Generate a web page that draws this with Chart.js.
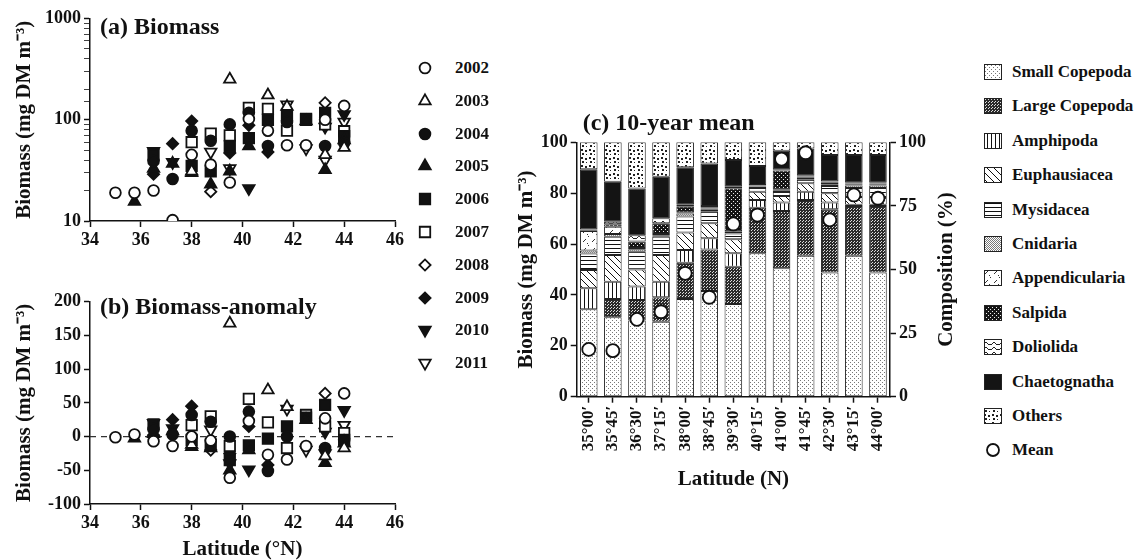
<!DOCTYPE html>
<html>
<head>
<meta charset="utf-8">
<script src="https://cdn.jsdelivr.net/npm/chart.js@4.4.1/dist/chart.umd.min.js"></script>
<style>
  body { margin: 0; background: #fff; width: 1146px; height: 560px; position: relative; overflow: hidden;
         font-family: "Liberation Serif", "Times New Roman", serif; font-weight: bold; color: #111; }
  canvas.chart { position: absolute; }
  .lrow { position: absolute; height: 22px; width: 170px; }
  .lrow canvas { position: absolute; left: 0; top: 0; }
  .lrow span { position: absolute; top: 0; line-height: 22px; font-size: 17px; white-space: nowrap; }
</style>
</head>
<body>
<canvas id="chartA" class="chart" width="410" height="262" style="left:0;top:0"></canvas>
<canvas id="chartB" class="chart" width="410" height="298" style="left:0;top:262px"></canvas>
<canvas id="chartC" class="chart" width="470" height="395" style="left:500px;top:100px"></canvas>
<div id="legendA"></div>
<div id="legendC"></div>

<script>
// ---- data: panels (a) and (b) ----
const latitudes = [35.0, 35.75, 36.5, 37.25, 38.0, 38.75, 39.5, 40.25, 41.0, 41.75, 42.5, 43.25, 44.0];
const latitudeRange = [34, 46];
const yearLabels = ["2002", "2003", "2004", "2005", "2006", "2007", "2008", "2009", "2010", "2011"];
const biomassTicks = [10, 100, 1000];

// biomass (mg DM m-3) per year, one value per latitude, null = not sampled
const biomass2002 = [19, 19, 20, 10.2, 45, 36, 24, 102, 78, 56, 56, 100, 137];
const biomass2003 = [null, null, null, null, 31, null, 251, null, 175, 135, null, 45, 53];
const biomass2004 = [null, null, 39, 26, 78, 62, 90, 117, 55, 95, null, 55, 59];
const biomass2005 = [null, 15.6, 33, 37, 30, 23, 31, 55, null, null, 97, 32, 63];
const biomass2006 = [null, null, 45, null, 35, 31, 55, 66, 100, 112, 100, 117, 69];
const biomass2007 = [null, null, null, null, 60, 73, 70, 131, 128, 78, 102, 90, 77];
const biomass2008 = [null, null, null, null, null, 19.5, null, null, null, null, null, 147, null];
const biomass2009 = [null, null, 29, 58, 97, null, 47, 88, 48, null, null, null, null];
const biomass2010 = [null, null, 49, 38, null, null, null, 21, null, null, null, 85, 113];
const biomass2011 = [null, null, null, null, null, 48, 33, null, null, 141, 52, 40, 95];

// biomass anomaly per year
const anomaly2002 = [-1, 3, -7, -14, 0, -6, -61, 23, -27, -34, -14, 27, 64];
const anomaly2003 = [null, null, null, null, -12, null, 168, null, 69, 44, null, -29, -17];
const anomaly2004 = [null, null, 11, 3, 32, 22, 0, 37, -51, 0, null, -17, -5];
const anomaly2005 = [null, -2.5, 4, 8, -15, -17, -50, -20, null, null, 25, -39, -10];
const anomaly2006 = [null, null, 18, null, -5, -12, -35, -13, -3, 15, 28, 47, -5];
const anomaly2007 = [null, null, null, null, 17, 30, -14, 56, 21, -17, 32, 15, 5];
const anomaly2008 = [null, null, null, null, null, -20, null, null, null, null, null, 64, null];
const anomaly2009 = [null, null, 2, 25, 45, null, -25, 15, -42, null, null, null, null];
const anomaly2010 = [null, null, 20, 12, null, null, null, -49, null, null, null, 7, 39];
const anomaly2011 = [null, null, null, null, null, 10, -40, null, null, 41, -20, -25, 17];

// ---- data: panel (c), composition (%) per station ----
const stationLabels = ["35°00′", "35°45′", "36°30′", "37°15′", "38°00′", "38°45′", "39°30′",
                       "40°15′", "41°00′", "41°45′", "42°30′", "43°15′", "44°00′"];
const smallCopepoda  = [34.4, 31.2, 30, 29.5, 38.4, 41.5, 36.4, 56.4, 50.5, 55.4, 48.8, 55.4, 48.8];
const largeCopepoda  = [0, 7.2, 8, 9.6, 14.3, 16.4, 14.7, 17.9, 22.5, 21.9, 24.9, 19.6, 26.2];
const amphipoda      = [8.2, 6.8, 5.3, 6.1, 5, 4.4, 5.3, 3, 3.3, 3.3, 2.6, 0.5, 0.5];
const euphausiacea   = [7.2, 10.5, 6.7, 10.5, 6.8, 5.9, 5.5, 3.3, 2.6, 3.3, 3.7, 3, 3];
const mysidacea      = [6.5, 7.2, 7, 7.2, 6.3, 4.5, 2.3, 1.4, 1.6, 1.4, 2.8, 3.5, 3.5];
const cnidaria       = [1.2, 1.1, 1, 0.6, 1.2, 0.8, 0.5, 0.6, 0.5, 0.7, 0.7, 1, 1];
const appendicularia = [7.6, 2.8, 0.5, 0.5, 0.5, 0.5, 0.3, 0.2, 0.3, 0.3, 0.5, 0.5, 0.5];
const salpida        = [0.3, 1.0, 2.5, 4.2, 2.2, 0.5, 16.9, 0.2, 7.6, 0.3, 0.3, 0.3, 0.3];
const doliolida      = [0.3, 1.0, 2.5, 1.9, 0.8, 0.5, 0.6, 0.2, 0.3, 0.3, 0.3, 0.3, 0.3];
const chaetognatha   = [23.7, 15.7, 18.3, 16.4, 14.7, 16.7, 10.5, 7.5, 7.5, 10.7, 10.4, 10.9, 10.9];
const others         = [10.6, 15.5, 18.2, 13.5, 9.8, 8.3, 7, 9.3, 3.3, 2.4, 5, 5, 5];
const meanBiomass    = [18.6, 18.1, 30.4, 33.4, 48.5, 39.1, 67.9, 71.4, 93.4, 95.9, 69.5, 79.3, 78];
const groupLabels = ["Small Copepoda", "Large Copepoda", "Amphipoda", "Euphausiacea", "Mysidacea",
                     "Cnidaria", "Appendicularia", "Salpida", "Doliolida", "Chaetognatha", "Others"];

const biomassSeries = [biomass2002, biomass2003, biomass2004, biomass2005, biomass2006,
                       biomass2007, biomass2008, biomass2009, biomass2010, biomass2011];
const anomalySeries = [anomaly2002, anomaly2003, anomaly2004, anomaly2005, anomaly2006,
                       anomaly2007, anomaly2008, anomaly2009, anomaly2010, anomaly2011];
const groupSeries = [smallCopepoda, largeCopepoda, amphipoda, euphausiacea, mysidacea,
                     cnidaria, appendicularia, salpida, doliolida, chaetognatha, others];

// ---- styles ----
const INK = "#111";
const FONT = '"Liberation Serif", "Times New Roman", serif';
Chart.defaults.font.family = FONT;
Chart.defaults.font.weight = "bold";
Chart.defaults.font.size = 18;
Chart.defaults.color = INK;
Chart.defaults.animation = false;

const markerStyles = [
  { pointStyle: "circle", fill: false, radius: 5.4, rotation: 0 },
  { pointStyle: "triangle", fill: false, radius: 6.6, rotation: 0 },
  { pointStyle: "circle", fill: true, radius: 5.4, rotation: 0 },
  { pointStyle: "triangle", fill: true, radius: 6.6, rotation: 0 },
  { pointStyle: "rect", fill: true, radius: 7.4, rotation: 0 },
  { pointStyle: "rect", fill: false, radius: 7.4, rotation: 0 },
  { pointStyle: "rectRot", fill: false, radius: 5.6, rotation: 0 },
  { pointStyle: "rectRot", fill: true, radius: 5.6, rotation: 0 },
  { pointStyle: "triangle", fill: true, radius: 6.6, rotation: 180 },
  { pointStyle: "triangle", fill: false, radius: 6.6, rotation: 180 }
];
const MARKER_LINE = 1.8;

// panel letter drawn inside / above the plot area, plus an optional
// right-hand axis title that reads bottom-to-top like the left one
const panelTitle = {
  id: "panelTitle",
  afterDraw(chart, args, opts) {
    const { ctx, chartArea } = chart;
    ctx.save();
    ctx.fillStyle = INK;
    if (opts.text) {
      ctx.font = "bold 24px " + FONT;
      ctx.textBaseline = "middle";
      ctx.fillText(opts.text, chartArea.left + opts.dx, chartArea.top + opts.dy);
    }
    if (opts.sideText) {
      const scale = chart.scales[opts.sideAxis];
      ctx.font = "bold 21px " + FONT;
      ctx.textAlign = "center";
      ctx.textBaseline = "middle";
      ctx.translate(scale.right - opts.sideInset, (chartArea.top + chartArea.bottom) / 2);
      ctx.rotate(-Math.PI / 2);
      ctx.fillText(opts.sideText, 0, 0);
    }
    ctx.restore();
  }
};
Chart.register(panelTitle);

function tickGrid(extra) {
  return Object.assign({ drawOnChartArea: false, drawTicks: true, tickLength: 6,
                         tickWidth: 1.5, tickColor: INK, color: INK }, extra || {});
}
const axisBorder = { display: true, color: INK, width: 1.5 };
function axisTitle(text, padding) {
  return { display: true, text: text, color: INK, padding: padding,
           font: { size: 21, weight: "bold", lineHeight: 1 } };
}

function yearDatasets(series) {
  return series.map((values, i) => {
    const s = markerStyles[i];
    return {
      label: yearLabels[i],
      data: latitudes.map((lat, j) => ({ x: lat, y: values[j] })).filter(p => p.y !== null),
      pointStyle: s.pointStyle,
      pointRotation: s.rotation,
      pointRadius: s.radius,
      pointBackgroundColor: s.fill ? INK : "#fff",
      pointBorderColor: INK,
      pointBorderWidth: MARKER_LINE,
      showLine: false,
      order: 1
    };
  });
}

const latitudeAxis = (withTitle) => ({
  type: "linear",
  min: latitudeRange[0],
  max: latitudeRange[1],
  ticks: { stepSize: 2, padding: 3, color: INK },
  grid: tickGrid(),
  border: axisBorder,
  title: withTitle ? axisTitle("Latitude (°N)", { top: 0, bottom: 0 }) : { display: false },
  afterFit: s => { s.height = withTitle ? 56 : 41; }
});

// ---- (a) biomass, log scale ----
new Chart(document.getElementById("chartA"), {
  type: "scatter",
  data: { datasets: yearDatasets(biomassSeries) },
  options: {
    responsive: false,
    layout: { padding: { top: 18.5, right: 15, left: 0, bottom: 0 } },
    plugins: { legend: { display: false }, tooltip: { enabled: false },
               panelTitle: { text: "(a) Biomass", dx: 10, dy: 9 } },
    scales: {
      x: latitudeAxis(false),
      y: {
        type: "logarithmic",
        min: 10,
        max: 1000,
        ticks: { autoSkip: false, padding: 3, color: INK,
                 callback: v => biomassTicks.includes(v) ? String(v) : "" },
        grid: tickGrid({
          tickWidth: c => (c.tick && biomassTicks.includes(c.tick.value)) ? 1.5 : 0.8
        }),
        border: axisBorder,
        title: axisTitle("Biomass (mg DM m⁻³)", { top: 14.5, bottom: 0 }),
        afterFit: s => { s.width = 90; }
      }
    }
  }
});

// ---- (b) biomass anomaly ----
const zeroLine = {
  label: "zero",
  data: latitudeRange.map(x => ({ x: x, y: 0 })),
  showLine: true,
  borderColor: "#333",
  borderWidth: 1.2,
  borderDash: [6, 5],
  pointRadius: 0,
  order: 20
};
new Chart(document.getElementById("chartB"), {
  type: "scatter",
  data: { datasets: yearDatasets(anomalySeries).concat([zeroLine]) },
  options: {
    responsive: false,
    layout: { padding: { top: 39.7, right: 15, left: 0, bottom: 0 } },
    plugins: { legend: { display: false }, tooltip: { enabled: false },
               panelTitle: { text: "(b) Biomass-anomaly", dx: 10, dy: 6.5 } },
    scales: {
      x: latitudeAxis(true),
      y: {
        type: "linear",
        min: -100,
        max: 200,
        ticks: { stepSize: 50, padding: 3, color: INK },
        grid: tickGrid(),
        border: axisBorder,
        title: axisTitle("Biomass (mg DM m⁻³)", { top: 14.5, bottom: 0 }),
        afterFit: s => { s.width = 90; }
      }
    }
  }
});

// ---- (c) hatch patterns ----
function tile(w, h, draw) {
  const c = document.createElement("canvas");
  c.width = w; c.height = h;
  const g = c.getContext("2d");
  g.fillStyle = "#fff";
  g.fillRect(0, 0, w, h);
  draw(g);
  return c;
}
function px(g, color, pts) {
  g.fillStyle = color;
  pts.forEach(p => g.fillRect(p[0], p[1], p[2] || 1, p[3] || 1));
}
const groupTiles = [
  tile(4, 4, g => px(g, "#777", [[0, 0], [2, 2]])),                          // small copepoda
  tile(3, 3, g => { g.fillStyle = "#2a2a2a"; g.fillRect(0, 0, 3, 3); px(g, "#ddd", [[0, 0], [2, 1]]); }),
  tile(4, 4, g => px(g, INK, [[0, 0, 1, 4]])),                               // amphipoda
  tile(7, 7, g => px(g, INK, [[0, 0], [1, 1], [2, 2], [3, 3], [4, 4], [5, 5], [6, 6]])),
  tile(4, 4, g => px(g, INK, [[0, 0, 4, 1]])),                               // mysidacea
  tile(2, 2, g => px(g, "#7a7a7a", [[0, 0], [1, 1]])),                        // cnidaria
  tile(9, 9, g => px(g, "#333", [[2, 6], [3, 5], [4, 4], [7, 1], [6, 8]])),   // appendicularia
  tile(4, 4, g => { g.fillStyle = "#151515"; g.fillRect(0, 0, 4, 4); px(g, "#eee", [[1, 1], [3, 3]]); }),
  tile(8, 5, g => px(g, "#222", [[0, 3], [1, 2], [2, 1], [3, 1], [4, 2], [5, 3], [6, 3], [7, 3]])),
  tile(2, 2, g => { g.fillStyle = "#141414"; g.fillRect(0, 0, 2, 2); }),     // chaetognatha
  tile(8, 8, g => px(g, "#222", [[1, 1, 2, 2], [5, 2, 2, 2], [2, 5, 2, 2], [6, 6, 1, 1]]))
];

const canvasC = document.getElementById("chartC");
const ctxC = canvasC.getContext("2d");
const groupPatterns = groupTiles.map(t => ctxC.createPattern(t, "repeat"));

const barDatasets = groupSeries.map((values, i) => ({
  type: "bar",
  label: groupLabels[i],
  data: values,
  backgroundColor: groupPatterns[i],
  borderColor: "#222",
  borderWidth: 1,
  borderSkipped: false,
  stack: "composition",
  yAxisID: "y2",
  categoryPercentage: 1,
  barPercentage: 0.73,
  order: 1
}));
const meanDataset = {
  type: "line",
  label: "Mean",
  data: meanBiomass,
  showLine: false,
  pointStyle: "circle",
  pointRadius: 6.5,
  pointBackgroundColor: "#fff",
  pointBorderColor: INK,
  pointBorderWidth: MARKER_LINE,
  yAxisID: "y",
  order: 0
};

new Chart(canvasC, {
  type: "bar",
  data: { labels: stationLabels, datasets: barDatasets.concat([meanDataset]) },
  options: {
    responsive: false,
    layout: { padding: { top: 42.3, right: 0, left: 0, bottom: 0 } },
    plugins: { legend: { display: false }, tooltip: { enabled: false },
               panelTitle: { text: "(c) 10-year mean", dx: 6, dy: -19,
                             sideText: "Composition (%)", sideAxis: "y2", sideInset: 23.3 } },
    scales: {
      x: {
        type: "category",
        stacked: true,
        offset: true,
        ticks: { minRotation: 90, maxRotation: 90, padding: 3, color: INK,
                 font: { size: 17, weight: "bold" } },
        grid: tickGrid({ offset: false }),
        border: axisBorder,
        title: axisTitle("Latitude (N)", { top: 0, bottom: 4.5 }),
        afterFit: s => { s.height = 98.3; }
      },
      y: {
        position: "left",
        min: 0,
        max: 100,
        ticks: { stepSize: 20, padding: 3, color: INK },
        grid: tickGrid(),
        border: axisBorder,
        title: axisTitle("Biomass (mg DM m⁻³)", { top: 16.5, bottom: 0 }),
        afterFit: s => { s.width = 76.7; }
      },
      y2: {
        position: "right",
        stacked: true,
        min: 0,
        max: 100,
        ticks: { stepSize: 25, padding: 3, color: INK },
        grid: tickGrid(),
        border: axisBorder,
        title: { display: false },
        afterFit: s => { s.width = 80; }
      }
    }
  }
});

// ---- legends ----
function drawMarker(g, s, x, y) {
  g.fillStyle = s.fill ? INK : "#fff";
  g.strokeStyle = INK;
  g.lineWidth = MARKER_LINE;
  if (Chart.helpers && Chart.helpers.drawPoint) {
    Chart.helpers.drawPoint(g, { pointStyle: s.pointStyle, rotation: s.rotation,
                                 radius: s.radius, borderWidth: MARKER_LINE }, x, y);
  } else {
    g.beginPath(); g.arc(x, y, s.radius, 0, Math.PI * 2); g.fill(); g.stroke();
  }
}
function legendRow(parent, left, top, textLeft, text) {
  const row = document.createElement("div");
  row.className = "lrow";
  row.style.left = left + "px";
  row.style.top = top + "px";
  const span = document.createElement("span");
  span.style.left = textLeft + "px";
  span.textContent = text;
  row.appendChild(span);
  parent.appendChild(row);
  return row;
}

const legendA = document.getElementById("legendA");
yearLabels.forEach((yr, i) => {
  const row = legendRow(legendA, 414, 68 + i * 32.8 - 11, 41, yr);
  const c = document.createElement("canvas");
  c.width = 22; c.height = 22;
  drawMarker(c.getContext("2d"), markerStyles[i], 11, 11);
  row.insertBefore(c, row.firstChild);
});

const legendC = document.getElementById("legendC");
groupLabels.concat(["Mean"]).forEach((name, i) => {
  const row = legendRow(legendC, 983, 72 + i * 34.4 - 11, 29, name);
  const c = document.createElement("canvas");
  c.width = 22; c.height = 22;
  const g = c.getContext("2d");
  if (i < groupTiles.length) {
    g.fillStyle = g.createPattern(groupTiles[i], "repeat");
    g.fillRect(1.5, 3.5, 17, 15);
    g.strokeStyle = "#222";
    g.lineWidth = 1;
    g.strokeRect(1.5, 3.5, 17, 15);
  } else {
    drawMarker(g, { pointStyle: "circle", fill: false, radius: 6, rotation: 0 }, 10, 11);
  }
  row.insertBefore(c, row.firstChild);
});
</script>
</body>
</html>
